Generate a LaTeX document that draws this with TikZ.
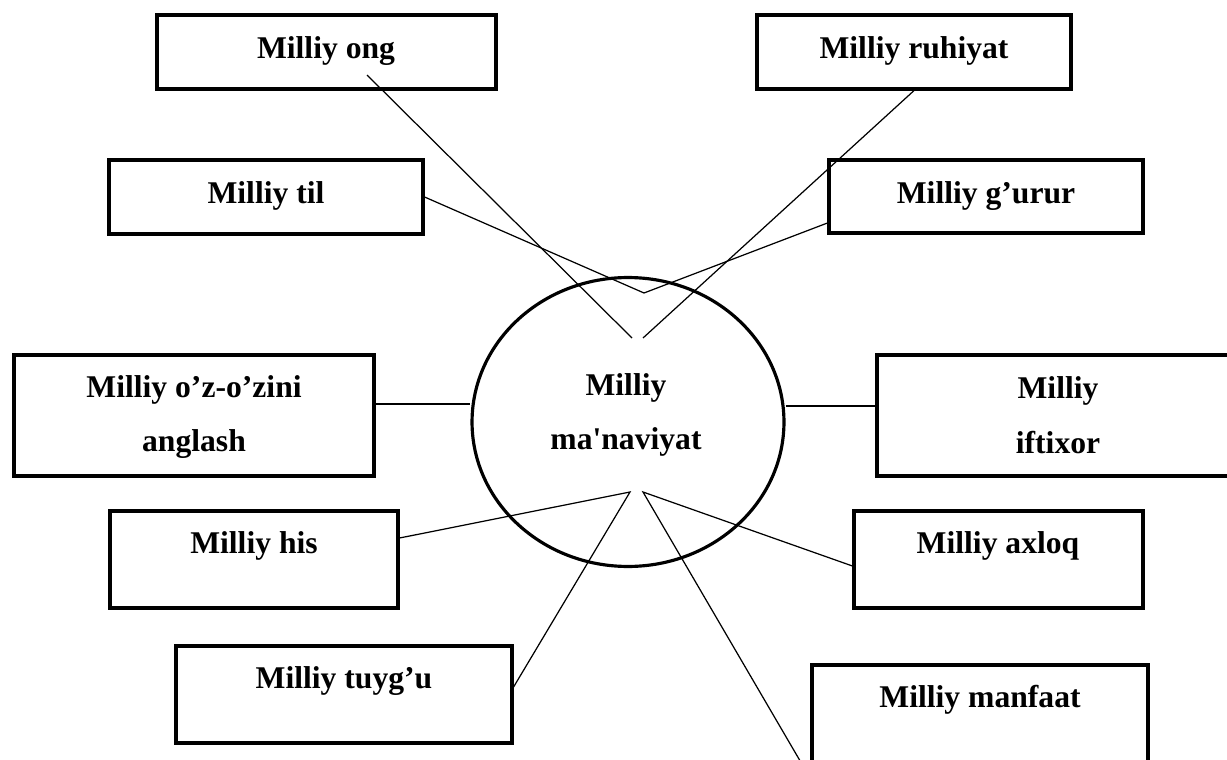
\documentclass[tikz,border=0pt]{standalone}
\usepackage{fontspec}
\setmainfont{Liberation Serif}
\usetikzlibrary{shapes.geometric,fit}

\begin{document}
\begin{tikzpicture}[x=0.02cm,y=-0.02cm,
    conceptbox/.style={rectangle,draw,line width=1.8pt,inner sep=0pt},
    conceptlbl/.style={font=\fontsize{18}{31}\selectfont\bfseries,align=center,inner sep=0pt},
    link/.style={line width=0.7pt}]
    \useasboundingbox (0,0) rectangle (1227,760);
    \clip (0,0) rectangle (1227,760);

    % Centre
    \node[ellipse,draw,line width=1.8pt,minimum width=6.24cm,minimum height=5.78cm] (hub) at (628,422) {};
    \node[conceptlbl] (hubT) at (626,415) {Milliy\\ma\textquotesingle naviyat};

    % Boxes on the left
    \node[conceptbox,fit={(157,15) (496,89)}] (ong) {};
    \node[conceptlbl] (ongT) at (326,51) {Milliy ong};
    \node[conceptbox,fit={(109,160) (423,234)}] (til) {};
    \node[conceptlbl] (tilT) at (266,196) {Milliy til};
    \node[conceptbox,fit={(14,355) (374,476)}] (oz) {};
    \node[conceptlbl] (ozT) at (194,417) {Milliy o’z-o’zini\\anglash};
    \node[conceptbox,fit={(110,511) (398,608)}] (his) {};
    \node[conceptlbl] (hisT) at (254,546) {Milliy his};
    \node[conceptbox,fit={(176,646) (512,743)}] (tuy) {};
    \node[conceptlbl] (tuyT) at (344,681) {Milliy tuyg’u};

    % Boxes on the right
    \node[conceptbox,fit={(757,15) (1071,89)}] (ruh) {};
    \node[conceptlbl] (ruhT) at (914,51) {Milliy ruhiyat};
    \node[conceptbox,fit={(829,160) (1143,233)}] (gur) {};
    \node[conceptlbl] (gurT) at (986,196) {Milliy g’urur};
    \node[conceptbox,fit={(877,355) (1240,476)}] (ift) {};
    \node[conceptlbl] (iftT) at (1058,415) {Milliy\\iftixor};
    \node[conceptbox,fit={(854,511) (1143,608)}] (axl) {};
    \node[conceptlbl] (axlT) at (998,546) {Milliy axloq};
    \node[conceptbox,fit={(812,665) (1148,777)}] (man) {};
    \node[conceptlbl] (manT) at (980,700) {Milliy manfaat};

    % Ends of the lines
    \coordinate (ongFoot) at (367,75);
    \coordinate (topV) at (644,293);
    \coordinate (ongTip) at (632,338);
    \coordinate (ruhTip) at (643,338);
    \coordinate (lowL) at (630,492);
    \coordinate (lowR) at (643,492);
    \coordinate (gurLn) at (0,223);
    \coordinate (ozLn) at (0,404);
    \coordinate (iftLn) at (0,406);
    \coordinate (hisLn) at (0,538);
    \coordinate (axlLn) at (0,566);
    \coordinate (tuyLn) at (0,687);

    % Lines
    \draw[link] (ongFoot) -- (ongTip);
    \draw[link] (ruh.south) -- (ruhTip);
    \draw[link] (til.east) -- (topV) -- (gur.west |- gurLn);
    \draw[link] (oz.east |- ozLn) -- (hub.west |- ozLn);
    \draw[link] (hub.east |- iftLn) -- (ift.west |- iftLn);
    \draw[link] (his.east |- hisLn) -- (lowL) -- (tuy.east |- tuyLn);
    \draw[link] (axl.west |- axlLn) -- (lowR) -- (man.south west);
\end{tikzpicture}
\end{document}
